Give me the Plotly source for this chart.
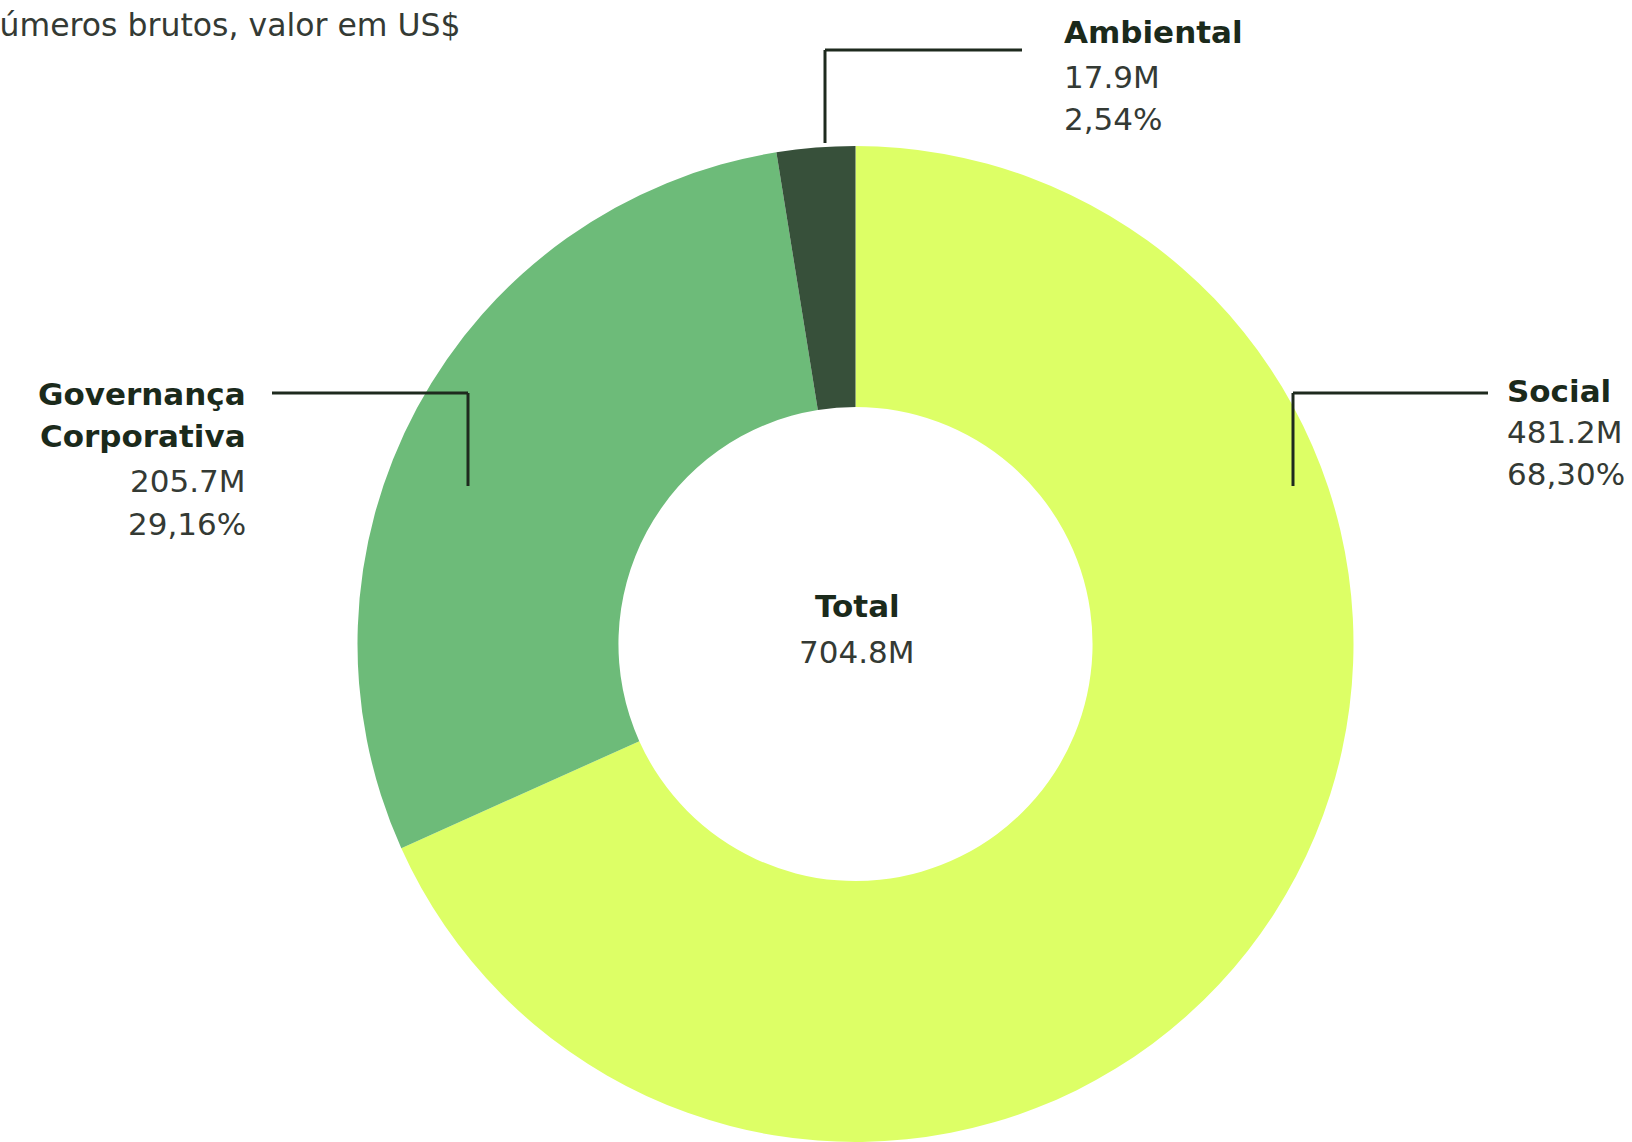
import plotly.graph_objects as go

# Investment by ESG pillar (US$ millions)
categories = ["Social", "Governança Corporativa", "Ambiental"]
values = [481.2, 205.7, 17.9]
value_labels = ["481.2M", "205.7M", "17.9M"]
pct_labels = ["68,30%", "29,16%", "2,54%"]
total_label = "704.8M"
colors = ["#DDFF66", "#6DBB79", "#37503A"]

W, H = 1632, 1142
FONT = "DejaVu Sans"
BOLD_COLOR = "#1B2A1B"
TEXT_COLOR = "#343a34"
LINE_COLOR = "#1E2A1E"
FS = 31


def px(x):
    return x / W


def py(y):
    return 1 - y / H


fig = go.Figure(
    go.Pie(
        labels=categories,
        values=values,
        marker=dict(colors=colors, line=dict(width=0)),
        hole=0.476,
        sort=False,
        direction="clockwise",
        rotation=0,
        textinfo="none",
        hoverinfo="label+value+percent",
        showlegend=False,
        domain=dict(x=[px(355.5), px(1355.5)], y=[0, 996 / H]),
    )
)

annotations = []


def add_line(text, x, baseline, anchor, bold=False, size=FS):
    annotations.append(
        dict(
            text=text,
            x=px(x),
            y=py(baseline - 0.346 * size),
            xref="paper",
            yref="paper",
            xanchor=anchor,
            yanchor="middle",
            showarrow=False,
            font=dict(
                family=FONT,
                size=size,
                color=BOLD_COLOR if bold else TEXT_COLOR,
                weight=700 if bold else 400,
            ),
        )
    )


# subtitle (runs off the left edge)
add_line("Números brutos, valor em US$", 463, 36, "right", size=31.5)

# Social
add_line(categories[0], 1505, 402, "left", bold=True)
add_line(value_labels[0], 1505, 443, "left")
add_line(pct_labels[0], 1505, 485, "left")

# Governança Corporativa
add_line("Governança", 248, 405, "right", bold=True)
add_line("Corporativa", 248, 447, "right", bold=True)
add_line(value_labels[1], 248, 492, "right")
add_line(pct_labels[1], 248, 535, "right")

# Ambiental
add_line(categories[2], 1062, 43, "left", bold=True)
add_line(value_labels[2], 1062, 88, "left")
add_line(pct_labels[2], 1062, 130, "left")

# centre total
add_line("Total", 857, 617, "center", bold=True)
add_line(total_label, 857, 663, "center")

# leader lines
leaders = [
    [(825, 50), (1022, 50), (825, 50), (825, 143)],
    [(272, 393), (468, 393), (468, 393), (468, 486)],
    [(1293, 393), (1488, 393), (1293, 393), (1293, 486)],
]
shapes = []
for seg in leaders:
    for (x0, y0), (x1, y1) in [(seg[0], seg[1]), (seg[2], seg[3])]:
        shapes.append(
            dict(
                type="line",
                xref="paper",
                yref="paper",
                x0=px(x0),
                y0=py(y0),
                x1=px(x1),
                y1=py(y1),
                line=dict(color=LINE_COLOR, width=3),
                layer="above",
            )
        )

fig.update_layout(
    width=W,
    height=H,
    margin=dict(l=0, r=0, t=0, b=0),
    paper_bgcolor="white",
    plot_bgcolor="white",
    annotations=annotations,
    shapes=shapes,
    font=dict(family=FONT),
)

fig.write_html("out.html")
